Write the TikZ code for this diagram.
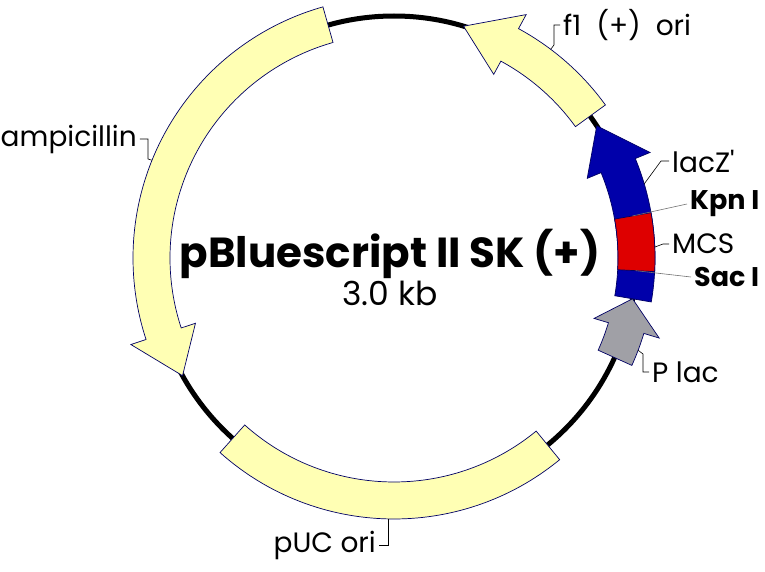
\documentclass[tikz,border=0pt]{standalone}
\usepackage{fontspec}
\setmainfont{Poppins}
\usetikzlibrary{positioning}
\definecolor{geneyellow}{RGB}{255,255,180}
\definecolor{laczblue}{RGB}{0,0,170}
\definecolor{mcsred}{RGB}{222,0,0}
\definecolor{placgray}{RGB}{160,160,166}
\definecolor{geneline}{RGB}{0,0,100}
\newcommand{\geneband}[3]{%
    \filldraw[gene, fill=#1] (#2:261pt) arc[start angle=#2, end angle=#3, radius=261pt]
        -- (#3:224pt) arc[start angle=#3, end angle=#2, radius=224pt] -- cycle;}
\newcommand{\genearrow}[4]{%
    \filldraw[gene, fill=#1] (#2:261pt) arc[start angle=#2, end angle=#3, radius=261pt]
        -- (#3:277pt) -- (#4:242pt) -- (#3:209pt) -- (#3:224pt)
        arc[start angle=#3, end angle=#2, radius=224pt] -- cycle;}

\begin{document}
\begin{tikzpicture}[x=1pt, y=1pt,
    gene/.style={draw=geneline, line width=0.7pt},
    lbl/.style={inner sep=3pt, font=\fontsize{28}{32}\selectfont},
    sitelbl/.style={lbl, font=\bfseries\fontsize{27}{31}\selectfont},
    lead/.style={black, line width=0.6pt},
    sitelead/.style={black!55, line width=0.6pt}]
    \useasboundingbox (-394,-313) rectangle (371,258);
    \draw[line width=5pt] (0,0) circle[radius=242pt];
    \geneband{geneyellow}{228.2}{309.4}
    \genearrow{geneyellow}{105.8}{198.2}{209.1}
    \genearrow{geneyellow}{35.9}{61.5}{73.3}
    \genearrow{placgray}{-24.3}{-16.8}{-9.7}
    \genearrow{laczblue}{-9.7}{22.4}{33.1}
    \geneband{mcsred}{-3}{10}
    \node[inner sep=1pt, font=\bfseries\fontsize{42}{48}\selectfont] (title) at (-4,4) {pBluescript II SK (+)};
    \node[inner sep=1pt, below=0pt of title, font=\fontsize{33}{38}\selectfont] (size) {3.0 kb};
    \coordinate (f1pt) at (53.1:261);
    \coordinate (amppt) at (158:261);
    \coordinate (pucpt) at (268.7:261);
    \coordinate (lacpt) at (16.5:261);
    \coordinate (kpnpt) at (10:242);
    \coordinate (mcspt) at (2.4:261);
    \coordinate (sacpt) at (-3:242);
    \coordinate (plpt) at (-20.7:261);
    \node[lbl, anchor=west] (f1lab) at (166,233) {f1~ (+)~ ori};
    \node[lbl, anchor=east] (amplab) at (-254,119) {ampicillin};
    \node[lbl, anchor=east] (puclab) at (-15,-287) {pUC ori};
    \node[lbl, anchor=west] (laclab) at (275,97) {lacZ\textquotesingle};
    \node[sitelbl, anchor=west] (kpnlab) at (293,54) {Kpn I};
    \node[lbl, anchor=west] (mcslab) at (275,14) {MCS};
    \node[sitelbl, anchor=west] (saclab) at (297,-19) {Sac I};
    \node[lbl, anchor=west] (pllab) at (255,-114) {P lac};
    \draw[lead] (f1lab.west) -- ++(-6,0) -- ++(0,-20) -- (f1pt);
    \draw[lead] (amplab.east) -- ++(8,0) -- ++(0,-20) -- (amppt);
    \draw[lead] (puclab.east) -| (pucpt);
    \draw[lead] (laclab.west) -- ++(-8,0) -- (lacpt);
    \draw[sitelead] (kpnlab.west) -- (kpnpt);
    \draw[lead] (mcslab.west) -- ++(-6,0) -- (mcspt);
    \draw[sitelead] (saclab.west) -- (sacpt);
    \draw[lead] (pllab.west) -- ++(-6,0) -- ++(0,18) -- (plpt);
\end{tikzpicture}
\end{document}
